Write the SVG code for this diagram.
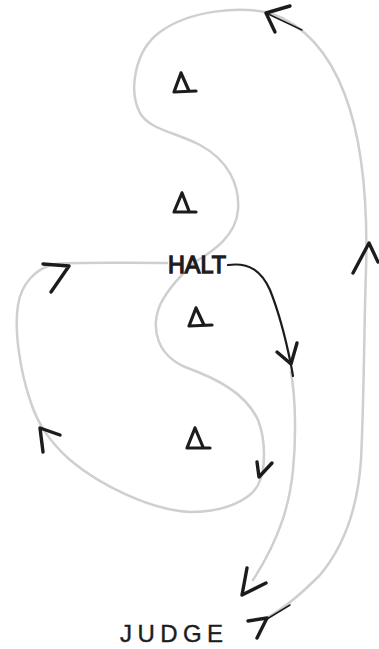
<svg xmlns="http://www.w3.org/2000/svg" width="379" height="649" viewBox="0 0 379 649">
<style>
.track{fill:none;stroke:#cfcfcf;stroke-width:2.5;stroke-linecap:round;stroke-linejoin:round}
.ink{fill:none;stroke:#1c1c1c;stroke-width:3.4;stroke-linecap:round;stroke-linejoin:round}
.cone{fill:none;stroke:#1c1c1c;stroke-width:3.2;stroke-linecap:round;stroke-linejoin:round}
.lbl{font-family:"Liberation Sans",Arial,sans-serif;font-size:24px;fill:#1c1c1c;stroke:#1c1c1c}
</style>
<rect width="379" height="649" fill="#ffffff"/>
<g id="connectors">
<path class="track" d="M268,617 C285,608 300,595 320,575 C345,545 358,505 361,460 C364,400 364,330 366,270 C368,200 362,140 345,95 C330,55 305,25 270,13 C240,6 190,10 160,32 C135,50 128,90 140,113 C150,130 175,132 200,145 C228,160 240,185 238,210 C236,235 215,250 195,262"/>
<path class="track" d="M195,262 C185,272 170,285 160,305 C150,330 158,355 185,367 C215,378 245,392 258,420 C266,440 266,470 258,485 C250,500 225,512 190,512 C150,510 100,485 70,460 C50,442 38,425 30,400 C20,370 14,330 18,305 C21,285 35,268 55,264 C75,262 120,263 167,263"/>
<path class="track" d="M291,372 C296,400 296,440 293,470 C290,500 282,535 253,580"/>
<path class="ink" style="stroke-width:2.2" d="M228,265 C250,262 262,272 270,290 C278,310 285,335 291,365 L293,376"/>
<path class="ink" d="M290,6 L266,13 L275,32"/>
<path class="ink" style="stroke-width:1.5" d="M266,13 L302,30"/>
<path class="ink" d="M43,264 L69,266 L51,292"/>
<path class="ink" d="M353,273 L369,243 L378,262"/>
<path class="ink" d="M277,352 L291,364 L297,343"/>
<path class="ink" d="M43,452 L40,428 L60,435"/>
<path class="ink" d="M257,462 L259,477 L272,463"/>
<path class="ink" d="M247,568 L242,595 L266,583"/>
<path class="ink" d="M248,621 L267,618 L257,638"/>
<path class="ink" style="stroke-width:1.5" d="M267,619 L290,605"/>
</g>
<g id="cone1"><path class="cone" d="M181,73 L174,92 L196,91 M181,73 L189,91"/></g>
<g id="cone2"><path class="cone" d="M182,193 L174,212 L196,212 M182,193 L189,211"/></g>
<g id="cone3"><path class="cone" d="M196,308 L189,326 L212,325 M196,308 L204,325"/></g>
<g id="cone4"><path class="cone" d="M195,428 L187,448 L210,448 M195,428 L203,447"/></g>
<g id="halt"><text class="lbl" style="stroke-width:1.3" x="168" y="273" textLength="58" lengthAdjust="spacingAndGlyphs">HALT</text></g>
<g id="judge"><text class="lbl" style="stroke-width:0.4" x="120" y="642" textLength="103" lengthAdjust="spacing">JUDGE</text></g>
</svg>
